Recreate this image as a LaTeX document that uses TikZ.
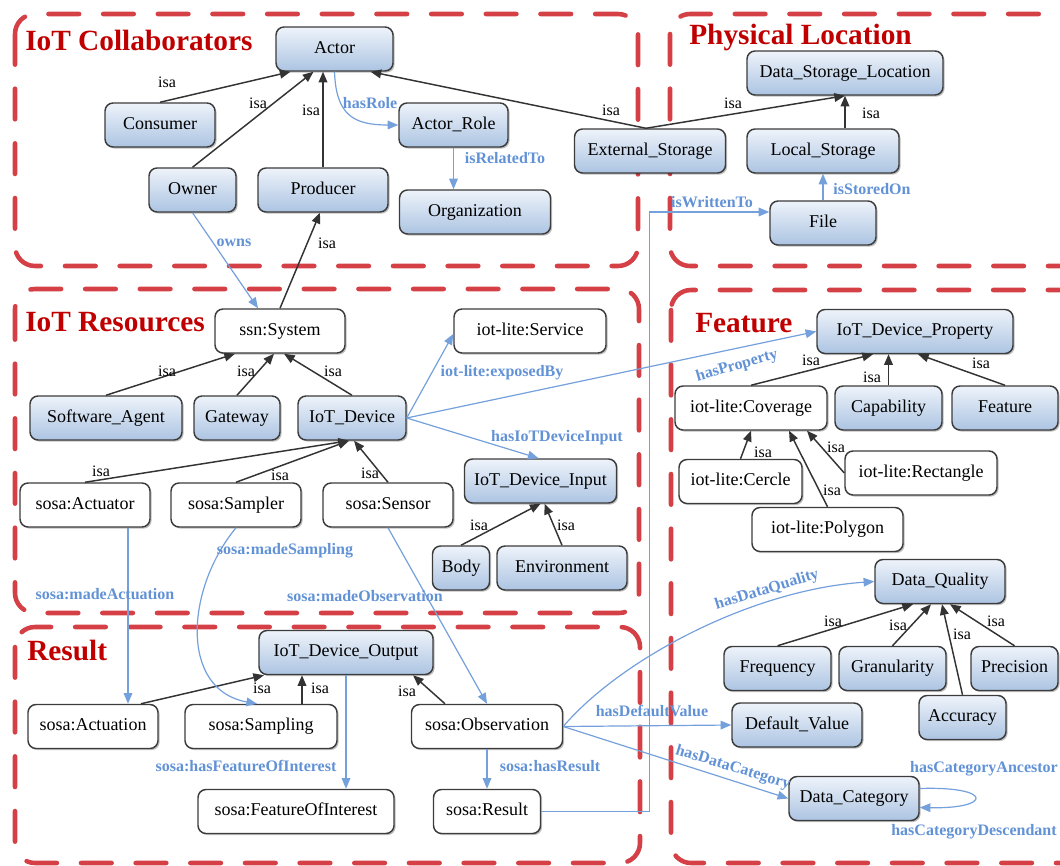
\documentclass[tikz,border=0pt]{standalone}
\usepackage{fontspec}
\setmainfont{Liberation Serif}
\usetikzlibrary{arrows.meta,calc,shadows}
\definecolor{boxred}{RGB}{213,64,70}
\definecolor{titlered}{RGB}{192,0,0}
\definecolor{edgeblue}{RGB}{116,160,220}
\definecolor{lblblue}{RGB}{98,146,214}
\definecolor{nodeborder}{RGB}{60,60,60}
\definecolor{gradtop}{RGB}{238,243,250}
\definecolor{gradbot}{RGB}{172,196,226}
\begin{document}
\begin{tikzpicture}[x=0.75pt,y=-0.75pt,
 base/.style={draw=nodeborder, line width=1.1pt, rounded corners=6pt, inner sep=0pt, minimum height=33pt, font=\fontsize{13.5}{15}\selectfont, text height=9.5pt, text depth=2.9pt, drop shadow={shadow xshift=1.2pt,shadow yshift=-1.2pt,opacity=0.25,fill=black}},
 bluen/.style={base, top color=gradtop, bottom color=gradbot},
 whiten/.style={base, fill=white},
 wd/.style={minimum width=#1*0.75pt},
 grp/.style={draw=boxred, line width=3.4pt, dash pattern=on 23pt off 18pt, rounded corners=15pt, line cap=round},
 ttl/.style={text=titlered, font=\fontsize{22}{24}\selectfont\bfseries, anchor=west, inner sep=0pt},
 isa/.style={draw=black!80, line width=1.1pt, -{Triangle[length=8pt,width=6.5pt]}},
 rel/.style={draw=edgeblue, line width=0.9pt, -{Triangle[length=8pt,width=6.5pt]}},
 il/.style={font=\fontsize{12}{13}\selectfont, inner sep=0pt, text=black},
 bl/.style={font=\fontsize{12}{13}\selectfont\bfseries, inner sep=0pt, text=lblblue},
]
\useasboundingbox (0,0) rectangle (1060,866);
\clip (0,0) rectangle (1060,866);

% group frames
\draw[grp] (15,14) rectangle (638,266);
\draw[grp] (670,14) rectangle (1090,266);
\draw[grp] (15,289) rectangle (639,613);
\draw[grp] (671,290) rectangle (1090,863);
\draw[grp] (15,627) rectangle (640,863);

% titles
\node[ttl] (t1) at (25,40) {IoT Collaborators};
\node[ttl] (t2) at (689,37) {Physical Location};
\node[ttl] (t3) at (25,322) {IoT Resources};
\node[ttl] (t4) at (695,323) {Feature};
\node[ttl] (t5) at (27,650) {Result};

% collaborators
\node[bluen,wd=117] (actor) at (334.5,49) {Actor};
\node[bluen,wd=110] (consumer) at (160,125) {Consumer};
\node[bluen,wd=87] (owner) at (192.5,190) {Owner};
\node[bluen,wd=130] (producer) at (323,190) {Producer};
\node[bluen,wd=109] (role) at (453.5,125) {Actor\_Role};
\node[bluen,wd=151] (org) at (475,212) {Organization};
\node[bluen,wd=151] (ext) at (650,151) {External\_Storage};
% physical location
\node[bluen,wd=196] (dsl) at (845,73) {Data\_Storage\_Location};
\node[bluen,wd=152] (local) at (823,151) {Local\_Storage};
\node[bluen,wd=106] (file) at (823,223) {File};
% resources
\node[whiten,wd=130] (ssn) at (280,331) {ssn:System};
\node[whiten,wd=152] (service) at (530,331) {iot-lite:Service};
\node[bluen,wd=152] (swagent) at (106,418) {Software\_Agent};
\node[bluen,wd=86] (gateway) at (237,418) {Gateway};
\node[bluen,wd=108] (iotdev) at (352,418) {IoT\_Device};
\node[whiten,wd=130] (actuator) at (85,505) {sosa:Actuator};
\node[whiten,wd=130] (sampler) at (236,505) {sosa:Sampler};
\node[whiten,wd=130] (sensor) at (388,505) {sosa:Sensor};
\node[bluen,wd=152] (idi) at (540.5,481) {IoT\_Device\_Input};
\node[bluen,wd=57] (body) at (461,568) {Body};
\node[bluen,wd=130] (env) at (562,568) {Environment};
% feature
\node[bluen,wd=196] (idp) at (915,331.5) {IoT\_Device\_Property};
\node[whiten,wd=152] (coverage) at (751,408) {iot-lite:Coverage};
\node[bluen,wd=107] (capab) at (888.5,408) {Capability};
\node[bluen,wd=106] (feat) at (1005,408) {Feature};
\node[whiten,wd=123] (cercle) at (740.5,481.5) {iot-lite:Cercle};
\node[whiten,wd=152] (rect) at (921,473) {iot-lite:Rectangle};
\node[whiten,wd=151] (polygon) at (827.5,529.5) {iot-lite:Polygon};
\node[bluen,wd=130] (dq) at (940,581.5) {Data\_Quality};
\node[bluen,wd=107] (freq) at (777.5,668.5) {Frequency};
\node[bluen,wd=107] (gran) at (892.5,668.5) {Granularity};
\node[bluen,wd=87] (prec) at (1014.5,668.5) {Precision};
\node[bluen,wd=87] (acc) at (962.5,717.5) {Accuracy};
\node[bluen,wd=130] (defval) at (797,725) {Default\_Value};
\node[bluen,wd=130] (datacat) at (854,798.5) {Data\_Category};
% result
\node[bluen,wd=174] (ido) at (346,652.5) {IoT\_Device\_Output};
\node[whiten,wd=130] (actuation) at (93,726.5) {sosa:Actuation};
\node[whiten,wd=152] (sampling) at (261,726.5) {sosa:Sampling};
\node[whiten,wd=151] (obs) at (487,726.5) {sosa:Observation};
\node[whiten,wd=196] (foi) at (296,811.5) {sosa:FeatureOfInterest};
\node[whiten,wd=107] (result) at (487,811.5) {sosa:Result};

% isa edges
\draw[isa] (consumer.north) -- ($(actor.south)+(-44,0)$) node[il] (i1) at (167,82) {isa};
\draw[isa] (owner.north) -- ($(actor.south)+(-21,0)$) node[il] (i2) at (258,103) {isa};
\draw[isa] (producer.north) -- (producer.north |- actor.south) node[il] (i3) at (311,110) {isa};
\coordinate (extn) at ($(ext.north)+(-4,0)$);
\draw[isa] (extn) -- ($(actor.south)+(36,0)$) node[il] (i4) at (611,110) {isa};
\draw[isa] (extn) -- (dsl.south) node[il] (i5) at (733,103) {isa};
\draw[isa] (local.north -| dsl.south) -- (dsl.south) node[il] (i6) at (871,113) {isa};
\draw[isa] (ssn.north) -- ($(producer.south)+(-3,0)$) node[il] (i7) at (327,243) {isa};
\draw[isa] (swagent.north) -- ($(ssn.south)+(-45,0)$) node[il] (i8) at (167,371) {isa};
\draw[isa] (gateway.north) -- ($(ssn.south)+(-6,0)$) node[il] (i9) at (246,371) {isa};
\draw[isa] (iotdev.north) -- ($(ssn.south)+(4,0)$) node[il] (i10) at (333,371) {isa};
\draw[isa] (actuator.north) -- ($(iotdev.south)+(-3,0)$) node[il] (i11) at (101,471) {isa};
\draw[isa] (sampler.north) -- ($(iotdev.south)+(-3,0)$) node[il] (i12) at (280,475) {isa};
\draw[isa] (sensor.north) -- ($(iotdev.south)+(2,0)$) node[il] (i13) at (370,473) {isa};
\draw[isa] (body.north) -- (idi.south) node[il] (i14) at (479,525) {isa};
\draw[isa] (env.north) -- ($(idi.south)+(4,0)$) node[il] (i15) at (566,525) {isa};
\draw[isa] (coverage.north) -- ($(idp.south)+(-42,0)$) node[il] (i16) at (811,360) {isa};
\draw[isa] (capab.north) -- (capab.north |- idp.south) node[il] (i17) at (872,377) {isa};
\draw[isa] (feat.north) -- ($(idp.south)+(3,0)$) node[il] (i18) at (981,363) {isa};
\draw[isa] (cercle.north) -- (coverage.south) node[il] (i19) at (763,452) {isa};
\draw[isa] (polygon.north) -- ($(coverage.south)+(38,0)$) node[il] (i20) at (832,490) {isa};
\draw[isa] (rect.west) -- ($(coverage.south)+(56,0)$) node[il] (i21) at (836,447) {isa};
\draw[isa] (freq.north) -- ($(dq.south)+(-27,0)$) node[il] (i22) at (833,621) {isa};
\draw[isa] (gran.north) -- ($(dq.south)+(-9,0)$) node[il] (i23) at (898,625) {isa};
\draw[isa] (acc.north) -- ($(dq.south)+(2,0)$) node[il] (i24) at (962,634) {isa};
\draw[isa] (prec.north) -- ($(dq.south)+(10,0)$) node[il] (i25) at (996,621) {isa};
\draw[isa] ($(actuation.north)+(48,0)$) -- ($(ido.south)+(-82,0)$) node[il] (i26) at (262,688) {isa};
\coordinate (sp) at ($(sampling.north)+(41,0)$);
\draw[isa] (sp) -- (sp |- ido.south) node[il] (i27) at (320,688) {isa};
\draw[isa] ($(obs.north)+(-42,0)$) -- ($(ido.south)+(67,0)$) node[il] (i28) at (407,691) {isa};

% relation edges
\draw[rel] (actor.south) .. controls ($(actor.south)+(1.5,44)$) and ($(role.west)+(-44,0)$) .. (role.west) node[bl] (r1) at (370,103) {hasRole};
\draw[rel] (role.south) -- (role.south |- org.north) node[bl] (r2) at (505,158) {isRelatedTo};
\draw[rel] (owner.south) -- ($(ssn.north)+(-22,0)$) node[bl] (r3) at (234,243) {owns};
\draw[rel] (file.north) -- (local.south) node[bl] (r4) at (872,189) {isStoredOn};
\draw[rel] (result.east) -| ($(file.west)+(-120,-11)$) -- ($(file.west)+(0,-11)$) node[bl] (r5) at (712,202) {isWrittenTo};
\draw[rel] (iotdev.east) -- ($(service.west)+(0,3)$) node[bl] (r6) at (502,373) {iot-lite:exposedBy};
\draw[rel] (iotdev.east) -- (idp.west) node[bl,rotate=16] (r7) at (737,366) {hasProperty};
\draw[rel] (iotdev.east) -- ($(idi.north)+(-2,0)$) node[bl] (r8) at (557,438) {hasIoTDeviceInput};
\coordinate (ma) at ($(actuator.south)+(43,0)$);
\draw[rel] (ma) -- (ma |- actuation.north) node[bl] (r9) at (105,594) {sosa:madeActuation};
\draw[rel] (sampler.south) .. controls (185,590) and (180,690) .. ($(sampling.north)+(-4,0)$) node[bl] (r10) at (285,551) {sosa:madeSampling};
\draw[rel] (sensor.south) -- (obs.north) node[bl] (r11) at (365,596) {sosa:madeObservation};
\draw[rel] (ido.south) -- (ido.south |- foi.north) node[bl] (r12) at (246,766) {sosa:hasFeatureOfInterest};
\draw[rel] (obs.south) -- (result.north) node[bl] (r13) at (550,766) {sosa:hasResult};
\draw[rel] (obs.east) -- (defval.west) node[bl] (r14) at (652,711) {hasDefaultValue};
\draw[rel] (obs.east) .. controls (620,660) and (750,590) .. (dq.west) node[bl,rotate=17] (r15) at (767,590) {hasDataQuality};
\draw[rel] (obs.east) -- (datacat.west) node[bl,rotate=-17] (r16) at (733,768) {hasDataCategory};
\draw[rel] ($(datacat.east)+(0,-10)$) .. controls (993,786) and (993,809) .. ($(datacat.east)+(0,9)$)
  node[bl] (r17) at (984,769) {hasCategoryAncestor}
  node[bl] (r18) at (974,832) {hasCategoryDescendant};
\end{tikzpicture}
\end{document}
